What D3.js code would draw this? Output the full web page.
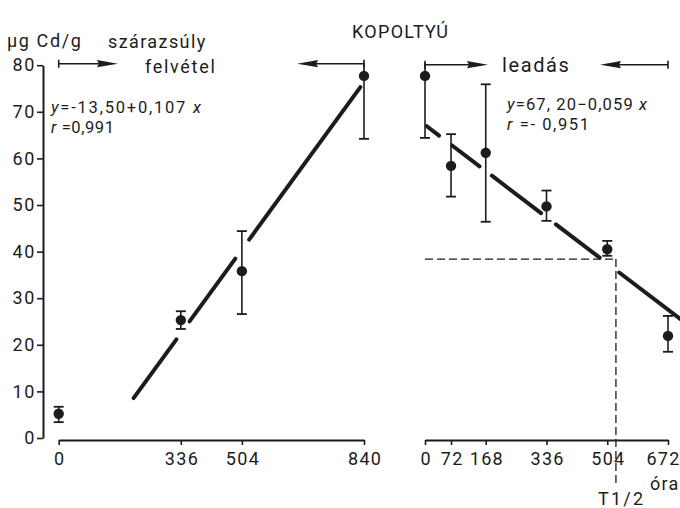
<!DOCTYPE html>
<html>
<head>
<meta charset="utf-8">
<script src="https://cdn.jsdelivr.net/npm/d3@7/dist/d3.min.js"></script>
<style>
  html, body { margin: 0; padding: 0; background: #fff; }
  svg { display: block; }
  text { font-family: Roboto, "DejaVu Sans", sans-serif; fill: #1c1c1c; }
</style>
</head>
<body>
<svg id="chart" width="680" height="508"></svg>
<script>
// Cd content of gill tissue (µg Cd/g dry weight) during uptake and release
const yTicks = [0, 10, 20, 30, 40, 50, 60, 70, 80];

// uptake phase (felvétel)
const uptakeHours = [0, 336, 504, 840];
const uptakeMean  = [5.2, 25.3, 35.8, 77.7];
const uptakeLow   = [3.4, 23.4, 26.6, 64.2];
const uptakeHigh  = [6.7, 27.2, 44.4, 80.5];
const uptakeTicks = [0, 336, 504, 840];
const uptakeFit   = { a: -13.50, b: 0.107, r: "0,991" };
// fitted line pieces (hours), interrupted where it crosses the error bars
const uptakeFitPieces = [[206, 324], [360, 486], [524, 830]];

// release phase (leadás)
const releaseHours = [0, 72, 168, 336, 504, 672];
const releaseMean  = [77.7, 58.4, 61.2, 49.7, 40.5, 21.9];
const releaseLow   = [64.4, 51.8, 46.4, 46.6, 39.1, 18.5];
const releaseHigh  = [80.5, 65.2, 75.9, 53.1, 42.3, 26.2];
const releaseTicks = [0, 72, 168, 336, 504, 672];
const releaseFit   = { a: 67.20, b: -0.059, r: "- 0,951" };
const releaseFitPieces = [[5, 39], [75, 151], [185, 321], [362, 483], [537, 710]];

// half-life read-off
const halfValue = 38.4;
const halfHours = 528;

const ink = "#1c1c1c";
const svg = d3.select("#chart");

const y = d3.scaleLinear().domain([0, 80]).range([438, 65.2]);
const xUp = d3.scaleLinear().domain([0, 840]).range([58.7, 364]);
const xRel = d3.scaleLinear().domain([0, 672]).range([425, 668]);

// y axis
const yAxis = svg.append("g").attr("transform", "translate(43,0)")
  .call(d3.axisLeft(y).tickValues(yTicks).tickSize(6).tickSizeOuter(0).tickPadding(1));
yAxis.selectAll("text").style("font-size", "18px").style("letter-spacing", "1.6px");

// x axes
function xAxis(scale, ticks) {
  const g = svg.append("g").attr("transform", "translate(0,440)")
    .call(d3.axisBottom(scale).tickValues(ticks).tickSize(5).tickSizeOuter(0).tickPadding(7)
      .tickFormat(d3.format("d")));
  g.selectAll("text").style("font-size", "18px").style("letter-spacing", "1.3px").attr("dx", "0.6px");
  return g;
}
xAxis(xUp, uptakeTicks);
const relAxis = xAxis(xRel, releaseTicks);
// last label pulled in from the right edge
relAxis.selectAll(".tick text").filter(d => d === 672).attr("dx", "-5px");

svg.selectAll(".domain").attr("stroke", ink).attr("stroke-width", 2);
svg.selectAll(".tick line").attr("stroke", ink).attr("stroke-width", 1.6);

// dashed half-life guides
const dash = svg.append("g").attr("stroke", ink).attr("stroke-width", 1.3)
  .attr("stroke-dasharray", "8,4").attr("fill", "none");
dash.append("line").attr("x1", xRel(0)).attr("x2", xRel(halfHours))
  .attr("y1", y(halfValue)).attr("y2", y(halfValue));
dash.append("line").attr("x1", xRel(halfHours)).attr("x2", xRel(halfHours))
  .attr("y1", y(halfValue)).attr("y2", 484);

// regression lines
function fitLine(scale, fit, pieces) {
  const g = svg.append("g").attr("stroke", ink).attr("stroke-width", 4)
    .attr("stroke-linecap", "round");
  pieces.forEach(([h0, h1]) => {
    g.append("line")
      .attr("x1", scale(h0)).attr("y1", y(fit.a + fit.b * h0))
      .attr("x2", scale(h1)).attr("y2", y(fit.a + fit.b * h1));
  });
}
fitLine(xUp, uptakeFit, uptakeFitPieces);
fitLine(xRel, releaseFit, releaseFitPieces);

// points with error bars
function points(scale, hours, mean, low, high) {
  const g = svg.append("g");
  hours.forEach((h, i) => {
    const cx = scale(h);
    g.append("line").attr("x1", cx).attr("x2", cx)
      .attr("y1", y(low[i])).attr("y2", y(high[i]))
      .attr("stroke", ink).attr("stroke-width", 1.6);
    const caps = high[i] < 80 ? [low[i], high[i]] : [low[i]];
    caps.forEach(v => {
      g.append("line").attr("x1", cx - 5).attr("x2", cx + 5)
        .attr("y1", y(v)).attr("y2", y(v))
        .attr("stroke", ink).attr("stroke-width", 1.8);
    });
    g.append("circle").attr("cx", cx).attr("cy", y(mean[i])).attr("r", 5.2).attr("fill", ink);
  });
}
points(xUp, uptakeHours, uptakeMean, uptakeLow, uptakeHigh);
points(xRel, releaseHours, releaseMean, releaseLow, releaseHigh);

// phase brackets with arrows
function arrow(x0, x1, yy) {
  const dir = Math.sign(x1 - x0);
  svg.append("line").attr("x1", x0).attr("x2", x1 - dir * 14).attr("y1", yy).attr("y2", yy)
    .attr("stroke", ink).attr("stroke-width", 1.6);
  svg.append("line").attr("x1", x0).attr("x2", x0).attr("y1", yy - 4).attr("y2", yy + 4)
    .attr("stroke", ink).attr("stroke-width", 1.6);
  const p = d3.path();
  p.moveTo(x1, yy);
  p.lineTo(x1 - dir * 21, yy - 3.6);
  p.lineTo(x1 - dir * 19, yy);
  p.lineTo(x1 - dir * 21, yy + 3.6);
  p.closePath();
  svg.append("path").attr("d", p.toString()).attr("fill", ink);
}
const upArrowY = y(80) - 1.5;
const relArrowY = y(80) - 0.5;
arrow(xUp(0), xUp(163), upArrowY);
arrow(xUp(840), xUp(656), upArrowY);
arrow(xRel(0), xRel(174), relArrowY);
arrow(xRel(672), xRel(484), relArrowY);

// labels
function label(txt, x, yy, size, ls, anchor) {
  return svg.append("text").attr("x", x).attr("y", yy)
    .attr("text-anchor", anchor || "start")
    .style("font-size", size + "px").style("letter-spacing", ls + "px").text(txt);
}
label("KOPOLTYÚ", 352, 38, 18, 1.3);
label("µg Cd/g", 7, 47, 18, 1.6);
label("szárazsúly", 108, 48, 18, 1.4);
label("felvétel", 145, 73, 18, 1.7);
label("leadás", 502, 71.5, 20, 1.6);
label("óra", 650, 490, 18, 1.2);
label("T1/2", 598, 505, 18, 2.2);

// regression equations, formatted from the fitted coefficients
const dec = (v, n, sep) => Math.abs(v).toFixed(n).replace(".", sep);
function equation(x, yy, fit, aText, bText, eqWidth, rWidth) {
  const t = svg.append("text").attr("x", x).attr("y", yy)
    .style("font-size", "16.5px")
    .attr("textLength", eqWidth).attr("lengthAdjust", "spacing");
  t.append("tspan").style("font-style", "italic").text("y");
  t.append("tspan").text("=" + aText + (fit.b < 0 ? "\u2212" : "+") + bText + " ");
  t.append("tspan").style("font-style", "italic").text("x");
  const r = svg.append("text").attr("x", x).attr("y", yy + 20)
    .style("font-size", "16.5px")
    .attr("textLength", rWidth).attr("lengthAdjust", "spacing");
  r.append("tspan").style("font-style", "italic").text("r");
  r.append("tspan").text(" =" + fit.r);
}
equation(51, 113, uptakeFit, "-" + dec(uptakeFit.a, 2, ","), dec(uptakeFit.b, 3, ","), 150, 63);
equation(507, 110, releaseFit, dec(releaseFit.a, 2, ", "), dec(releaseFit.b, 3, ","), 140, 82);
</script>
</body>
</html>
